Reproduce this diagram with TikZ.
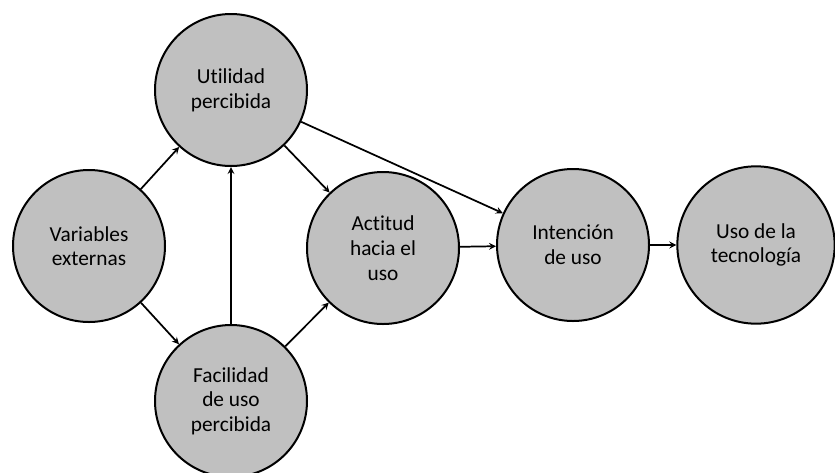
\documentclass[tikz,border=0pt]{standalone}
\usepackage{fontspec}
\setmainfont[Ligatures=NoCommon]{Carlito}
\usepackage{tikz}

\begin{document}
\begin{tikzpicture}[x=0.75pt,y=0.75pt,yscale=-1,xscale=1,
  estado/.style={circle,draw=black,line width=1.5pt,fill={rgb,255:red,192;green,192;blue,192},minimum size=114pt,inner sep=0pt,align=center,font=\fontsize{16}{18.5}\selectfont},
  flecha/.style={->,>=stealth,line width=1.3pt}]
\useasboundingbox (0,0) rectangle (835,472);

% Circles
\node [estado] (var) at (89,246) {Variables\\externas};
\node [estado] (util) at (231,90) {Utilidad\\percibida};
\node [estado] (fac) at (231,401) {Facilidad\\de uso\\percibida};
\node [estado] (act) at (383,248) {Actitud\\hacia el\\uso};
\node [estado] (int) at (573,245) {Intención\\de uso};
\node [estado,minimum size=118pt] (uso) at (756,245) {Uso de la\\tecnología};

% Straight Lines
\draw [flecha] (var) -- (util);
\draw [flecha] (var) -- (fac);
\draw [flecha] (fac) -- (util);
\draw [flecha] (util) -- (act);
\draw [flecha] (fac) -- (act);
\draw [flecha] (util) -- (int);
\draw [flecha] (act) -- (int);
\draw [flecha] (int) -- (uso);

\end{tikzpicture}
\end{document}
